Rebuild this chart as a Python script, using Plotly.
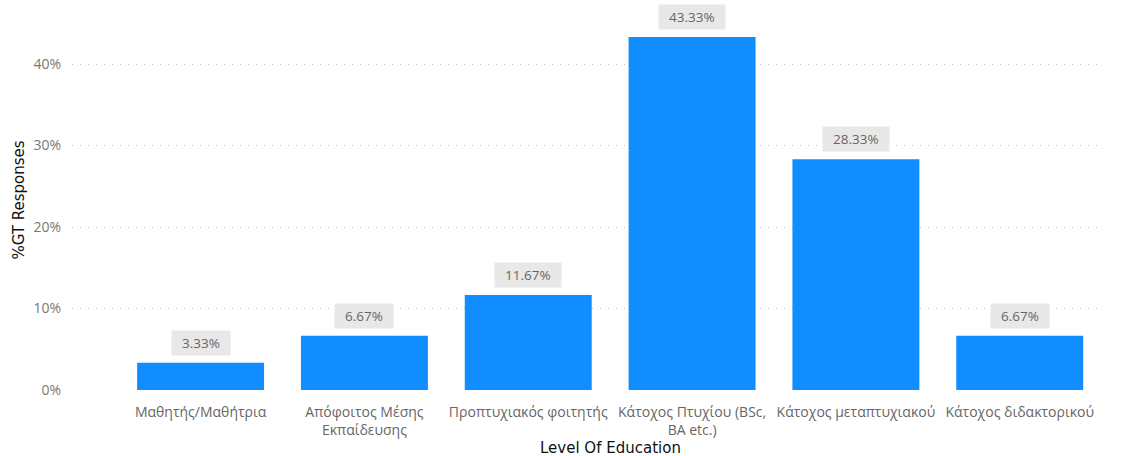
import plotly.graph_objects as go

categories = [
    "Μαθητής/Μαθήτρια",
    "Απόφοιτος Μέσης<br>Εκπαίδευσης",
    "Προπτυχιακός φοιτητής",
    "Κάτοχος Πτυχίου (BSc,<br>BA etc.)",
    "Κάτοχος μεταπτυχιακού",
    "Κάτοχος διδακτορικού",
]
responses = [3.33, 6.67, 11.67, 43.33, 28.33, 6.67]
y_ticks = [0, 10, 20, 30, 40]
y_tick_labels = ["0%", "10%", "20%", "30%", "40%"]

FONT = "Open Sans, Noto Sans, sans-serif"
TITLE_FONT = "DejaVu Sans, sans-serif"
x_pos = list(range(len(categories)))

fig = go.Figure(
    go.Bar(
        x=x_pos,
        y=responses,
        marker=dict(color="#118DFF", line=dict(width=0)),
        width=0.775,
        hoverinfo="skip",
    )
)

# value labels on light grey pills above each bar
for xi, v in zip(x_pos, responses):
    fig.add_annotation(
        x=xi, y=v, xref="x", yref="y",
        text=f"\u00a0\u00a0{v:.2f}%\u00a0\u00a0",
        showarrow=False,
        yanchor="bottom",
        yshift=7,
        font=dict(family=FONT, size=13.5, color="#666666"),
        bgcolor="#E8E8E8",
        borderpad=3,
    )

# x-axis title, sitting below the category labels
fig.add_annotation(
    x=0.524, y=-0.153, xref="paper", yref="paper",
    text="Level Of Education",
    showarrow=False,
    xanchor="center", yanchor="middle",
    font=dict(family=TITLE_FONT, size=15, color="#111111"),
)

fig.update_layout(
    width=1143, height=456,
    margin=dict(l=72, r=43, t=10, b=66),
    paper_bgcolor="white",
    plot_bgcolor="white",
    showlegend=False,
    font=dict(family=FONT),
)
fig.update_xaxes(
    range=[-0.785, 5.49],
    automargin=False,
    tickmode="array",
    tickvals=x_pos,
    ticktext=categories,
    tickfont=dict(family=FONT, size=14, color="#666666"),
    showgrid=False,
    zeroline=False,
    showline=False,
    ticks="",
    ticklabelstandoff=12,
)
fig.update_yaxes(
    range=[0, 46.63],
    automargin=False,
    tickmode="array",
    tickvals=y_ticks,
    ticktext=y_tick_labels,
    tickfont=dict(family=FONT, size=14, color="#777777"),
    showgrid=True,
    gridcolor="#BDBDBD",
    griddash="1px,7px",
    gridwidth=1.3,
    zeroline=False,
    showline=False,
    ticks="",
    ticklabelstandoff=10,
    title=dict(text="%GT Responses",
               font=dict(family=TITLE_FONT, size=15, color="#111111"),
               standoff=5),
)

fig.write_html("out.html")
